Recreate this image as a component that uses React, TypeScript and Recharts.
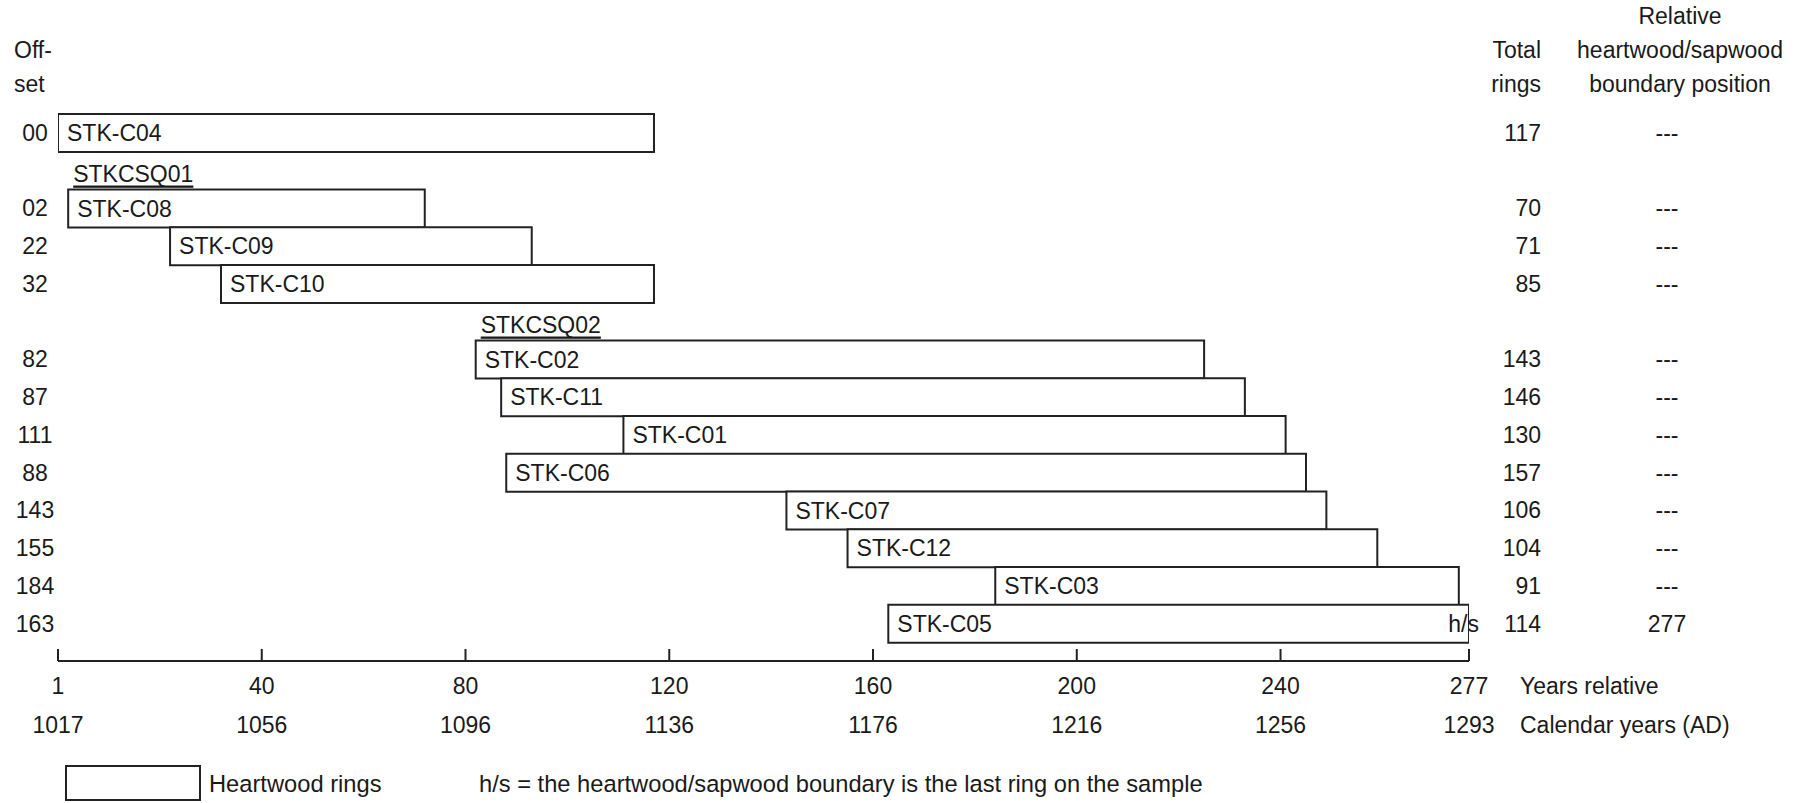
import React from "react";
import { Bar, BarChart, LabelList, XAxis, YAxis } from "recharts";

// samples, top to bottom
const sampleNames = ["STK-C04", "STK-C08", "STK-C09", "STK-C10", "STK-C02", "STK-C11", "STK-C01", "STK-C06", "STK-C07", "STK-C12", "STK-C03", "STK-C05"];
const offsets = [0, 2, 22, 32, 82, 87, 111, 88, 143, 155, 184, 163];
const totalRings = [117, 70, 71, 85, 143, 146, 130, 157, 106, 104, 91, 114];
const boundaryPos = ["---", "---", "---", "---", "---", "---", "---", "---", "---", "---", "---", "277"];
const hsSamples = ["STK-C05"];

// site sequences, each one heads the sample at index `before`
const groups = [
  { name: "STKCSQ01", before: 1 },
  { name: "STKCSQ02", before: 4 },
];

// x axis
const tickValues = [0, 40, 80, 120, 160, 200, 240, 277];
const relLabels = ["1", "40", "80", "120", "160", "200", "240", "277"];
const calLabels = ["1017", "1056", "1096", "1136", "1176", "1216", "1256", "1293"];

const FONT = "'Liberation Sans', Arial, sans-serif";
const FS = 23;
const INK = "#1a1a1a";
const LINE = "#222";

type Row = {
  key: string;
  kind: "sample" | "group";
  span: [number, number] | null;
  offset?: number;
  total?: number;
  boundary?: string;
  hs?: boolean;
  group?: string;
};

const rows: Row[] = [];
sampleNames.forEach((name, i) => {
  const g = groups.find((g) => g.before === i);
  if (g) rows.push({ key: g.name, kind: "group", span: null });
  rows.push({
    key: name,
    kind: "sample",
    span: [offsets[i], offsets[i] + totalRings[i]],
    offset: offsets[i],
    total: totalRings[i],
    boundary: boundaryPos[i],
    hs: hsSamples.includes(name),
    group: g ? g.name : undefined,
  });
});

const rowByKey = (k: string) => rows.find((r) => r.key === k);

function AxisTick(props: any) {
  const { x, y, index } = props;
  return (
    <g>
      <line x1={x} x2={x} y1={y} y2={y - 12} stroke={LINE} strokeWidth={2} />
      <text x={x} y={y + 25} textAnchor="middle" dominantBaseline="central" fill={INK} fontSize={FS} fontFamily={FONT}>
        {relLabels[index]}
      </text>
      <text x={x} y={y + 64} textAnchor="middle" dominantBaseline="central" fill={INK} fontSize={FS} fontFamily={FONT}>
        {calLabels[index]}
      </text>
    </g>
  );
}

function OffsetTick(props: any) {
  const { x, y, payload } = props;
  const r = rowByKey(payload.value);
  if (!r || r.kind !== "sample") return null;
  return (
    <text x={x - 23} y={y} textAnchor="middle" dominantBaseline="central" fill={INK} fontSize={FS} fontFamily={FONT}>
      {String(r.offset).padStart(2, "0")}
    </text>
  );
}

function RightTick(props: any) {
  const { x, y, payload } = props;
  const r = rowByKey(payload.value);
  if (!r || r.kind !== "sample") return null;
  return (
    <g fill={INK} fontSize={FS} fontFamily={FONT}>
      <text x={x + 72} y={y} textAnchor="end" dominantBaseline="central">
        {r.total}
      </text>
      <text x={x + 198} y={y} textAnchor="middle" dominantBaseline="central">
        {r.boundary}
      </text>
    </g>
  );
}

function BarLabel(props: any) {
  const { x, y, width, height, value } = props;
  const r = rowByKey(value);
  if (!r || r.kind !== "sample") return null;
  const cy = y + height / 2;
  return (
    <g fill={INK} fontSize={FS} fontFamily={FONT}>
      {r.group && (
        <text x={x + 5} y={y - height / 2 + 3} dominantBaseline="central" textDecoration="underline" style={{ textDecoration: "underline" }}>
          {r.group}
        </text>
      )}
      <text x={x + 9} y={cy} dominantBaseline="central">
        {r.key}
      </text>
      {r.hs && (
        <text x={x + width + 10} y={cy} textAnchor="end" dominantBaseline="central">
          h/s
        </text>
      )}
    </g>
  );
}

const txt = { fill: INK, fontSize: FS, fontFamily: FONT } as const;

export default function App() {
  return (
    <div style={{ position: "relative", width: 1811, height: 803, background: "#fff" }}>
      <style>{"body{margin:0}"}</style>
      <BarChart
        width={1811}
        height={803}
        data={rows}
        layout="vertical"
        margin={{ top: 114, right: 0, bottom: 0, left: 0 }}
        barCategoryGap={0}
        style={{ position: "absolute", left: 0, top: 0 }}
      >
        <XAxis
          type="number"
          domain={[0, 277]}
          ticks={tickValues}
          interval={0}
          allowDataOverflow
          tickLine={false}
          tickSize={0}
          tickMargin={0}
          axisLine={{ stroke: LINE, strokeWidth: 2 }}
          tick={<AxisTick />}
          height={142}
        />
        <YAxis
          yAxisId="left"
          type="category"
          dataKey="key"
          width={58}
          tickLine={false}
          axisLine={false}
          tickSize={0}
          tickMargin={0}
          interval={0}
          padding={{ top: 0, bottom: 18.5 }}
          tick={<OffsetTick />}
        />
        <YAxis
          yAxisId="right"
          orientation="right"
          type="category"
          dataKey="key"
          width={342}
          tickLine={false}
          axisLine={false}
          tickSize={0}
          tickMargin={0}
          interval={0}
          padding={{ top: 0, bottom: 18.5 }}
          tick={<RightTick />}
        />
        <Bar dataKey="span" yAxisId="left" isAnimationActive={false} fill="#fff" stroke={LINE} strokeWidth={2}>
          <LabelList dataKey="key" content={<BarLabel />} />
        </Bar>
      </BarChart>
      <svg width={1811} height={803} style={{ position: "absolute", left: 0, top: 0, pointerEvents: "none" }}>
        <g {...txt} dominantBaseline="central">
          <text x={14} y={50}>Off-</text>
          <text x={14} y={84}>set</text>
          <text x={1541} y={50} textAnchor="end">Total</text>
          <text x={1541} y={84} textAnchor="end">rings</text>
          <text x={1680} y={16} textAnchor="middle">Relative</text>
          <text x={1680} y={50} textAnchor="middle">heartwood/sapwood</text>
          <text x={1680} y={84} textAnchor="middle">boundary position</text>
          <text x={1520} y={686}>Years relative</text>
          <text x={1520} y={725}>Calendar years (AD)</text>
          <rect x={66} y={766} width={134} height={34} fill="#fff" stroke={LINE} strokeWidth={2} />
          <text x={209} y={784} fontSize={23.7}>Heartwood rings</text>
          <text x={479} y={784} fontSize={23.7}>h/s = the heartwood/sapwood boundary is the last ring on the sample</text>
        </g>
      </svg>
    </div>
  );
}
